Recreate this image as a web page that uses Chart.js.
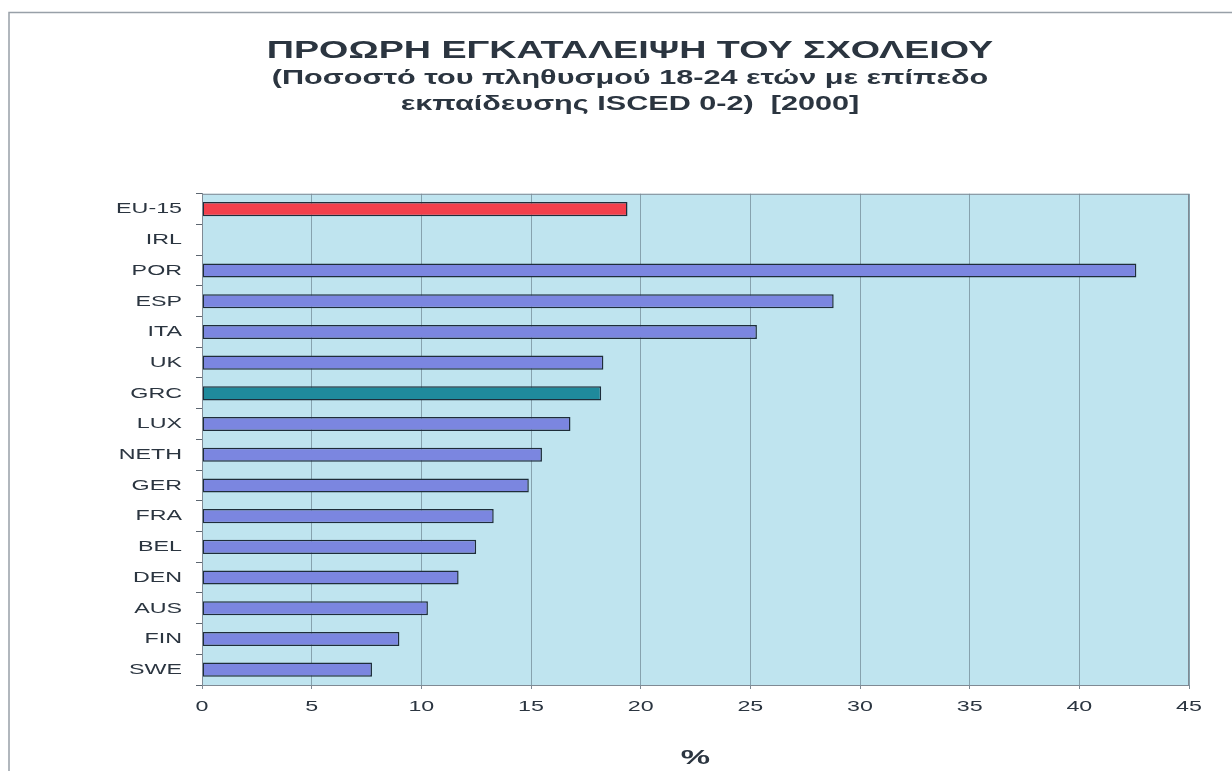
<!DOCTYPE html>
<html>
<head>
<meta charset="utf-8">
<script src="https://cdn.jsdelivr.net/npm/chart.js@4/dist/chart.umd.min.js"></script>
<style>
  html, body { margin: 0; padding: 0; background: #ffffff; }
  #wrap { width: 1232px; height: 771px; position: relative; }
</style>
</head>
<body>
<div id="wrap"><canvas id="c" width="1232" height="771"></canvas></div>
<script>
const categories = ['EU-15','IRL','POR','ESP','ITA','UK','GRC','LUX','NETH','GER','FRA','BEL','DEN','AUS','FIN','SWE'];
const values = [19.4, null, 42.6, 28.8, 25.3, 18.3, 18.2, 16.8, 15.5, 14.9, 13.3, 12.5, 11.7, 10.3, 9.0, 7.75];
const xTicks = [0,5,10,15,20,25,30,35,40,45];
const titleLine = 'ΠΡΟΩΡΗ ΕΓΚΑΤΑΛΕΙΨΗ ΤΟΥ ΣΧΟΛΕΙΟΥ';
const subtitleLines = ['(Ποσοστό του πληθυσμού 18-24 ετών με επίπεδο', 'εκπαίδευσης ISCED 0-2)  [2000]'];
const axisTitle = '%';

const barColors = categories.map(c => c === 'EU-15' ? '#f2404c' : (c === 'GRC' ? '#1f8a9c' : '#7b86e0'));

// The reference typography is horizontally wide: stretch glyphs horizontally around their anchor.
(function () {
  const proto = CanvasRenderingContext2D.prototype;
  const origFill = proto.fillText;
  const origMeasure = proto.measureText;
  const stretchFor = (font) => /bold/.test(font) ? 1.57 : 1.5;
  proto.fillText = function (text, x, y, maxWidth) {
    const sx = stretchFor(this.font);
    this.save();
    this.translate(x, y);
    this.scale(sx, 1);
    if (maxWidth !== undefined) origFill.call(this, text, 0, 0, maxWidth / sx);
    else origFill.call(this, text, 0, 0);
    this.restore();
  };
  proto.measureText = function (text) {
    const m = origMeasure.call(this, text);
    const sx = stretchFor(this.font);
    return {
      width: m.width * sx,
      actualBoundingBoxLeft: m.actualBoundingBoxLeft * sx,
      actualBoundingBoxRight: m.actualBoundingBoxRight * sx,
      actualBoundingBoxAscent: m.actualBoundingBoxAscent,
      actualBoundingBoxDescent: m.actualBoundingBoxDescent,
      fontBoundingBoxAscent: m.fontBoundingBoxAscent,
      fontBoundingBoxDescent: m.fontBoundingBoxDescent
    };
  };
})();

const framePlugin = {
  id: 'frame',
  beforeDraw(chart) {
    const ctx = chart.ctx;
    ctx.save();
    ctx.fillStyle = '#ffffff';
    ctx.fillRect(0, 0, chart.width, chart.height);
    ctx.strokeStyle = '#98a0a8';
    ctx.lineWidth = 1.5;
    ctx.beginPath();
    ctx.moveTo(9, 775);
    ctx.lineTo(9, 12.5);
    ctx.lineTo(1232, 12.5);
    ctx.stroke();
    const a = chart.chartArea;
    ctx.fillStyle = '#bfe4ef';
    ctx.fillRect(a.left, a.top, a.right - a.left, a.bottom - a.top);
    ctx.restore();
  },
  afterDatasetsDraw(chart) {
    const ctx = chart.ctx;
    const a = chart.chartArea;
    ctx.save();
    ctx.strokeStyle = '#7f8a94';
    ctx.lineWidth = 1;
    ctx.strokeRect(a.left + 0.5, a.top + 0.5, a.right - a.left - 1, a.bottom - a.top);
    ctx.restore();
  }
};

const FAMILY = 'Liberation Sans, Arial, sans-serif';

new Chart(document.getElementById('c'), {
  type: 'bar',
  data: {
    labels: categories,
    datasets: [{
      data: values,
      backgroundColor: barColors,
      borderColor: '#1e2d3a',
      borderWidth: 1.5,
      borderSkipped: false,
      barPercentage: 0.92,
      categoryPercentage: 0.5
    }]
  },
  options: {
    indexAxis: 'y',
    responsive: false,
    animation: false,
    layout: { padding: { left: 71, right: 43, top: 37, bottom: 0 } },
    plugins: {
      legend: { display: false },
      tooltip: { enabled: false },
      title: {
        display: true,
        text: titleLine,
        color: '#2b3540',
        font: { family: FAMILY, size: 24, weight: 'bold', lineHeight: 1.2 },
        padding: { top: 0, bottom: 0 }
      },
      subtitle: {
        display: true,
        text: subtitleLines,
        color: '#2b3540',
        font: { family: FAMILY, size: 19.5, weight: 'bold', lineHeight: 1.333 },
        padding: { top: 0, bottom: 76 }
      }
    },
    scales: {
      x: {
        type: 'linear',
        min: 0,
        max: 45,
        afterBuildTicks(scale) { scale.ticks = xTicks.map(v => ({ value: v })); },
        afterFit(scale) { scale.height = 86; },
        grid: {
          display: true,
          drawOnChartArea: true,
          color: '#86a2ae',
          lineWidth: 1,
          tickLength: 4,
          tickColor: '#7f8a94'
        },
        border: { display: true, color: '#7f8a94' },
        ticks: {
          color: '#2b3540',
          padding: 8,
          font: { family: FAMILY, size: 15.5 }
        },
        title: {
          display: true,
          text: axisTitle,
          color: '#2b3540',
          font: { family: FAMILY, size: 21, weight: 'bold', lineHeight: 1.2 },
          padding: { top: 1, bottom: 0 }
        }
      },
      y: {
        type: 'category',
        afterFit(scale) { scale.width = 131; },
        grid: {
          display: true,
          offset: true,
          drawOnChartArea: false,
          tickLength: 6,
          tickColor: '#5c6670',
          lineWidth: 1
        },
        border: { display: true, color: '#7f8a94' },
        ticks: {
          color: '#2b3540',
          padding: 14,
          autoSkip: false,
          font: { family: FAMILY, size: 15.5 }
        }
      }
    }
  },
  plugins: [framePlugin]
});
</script>
</body>
</html>
